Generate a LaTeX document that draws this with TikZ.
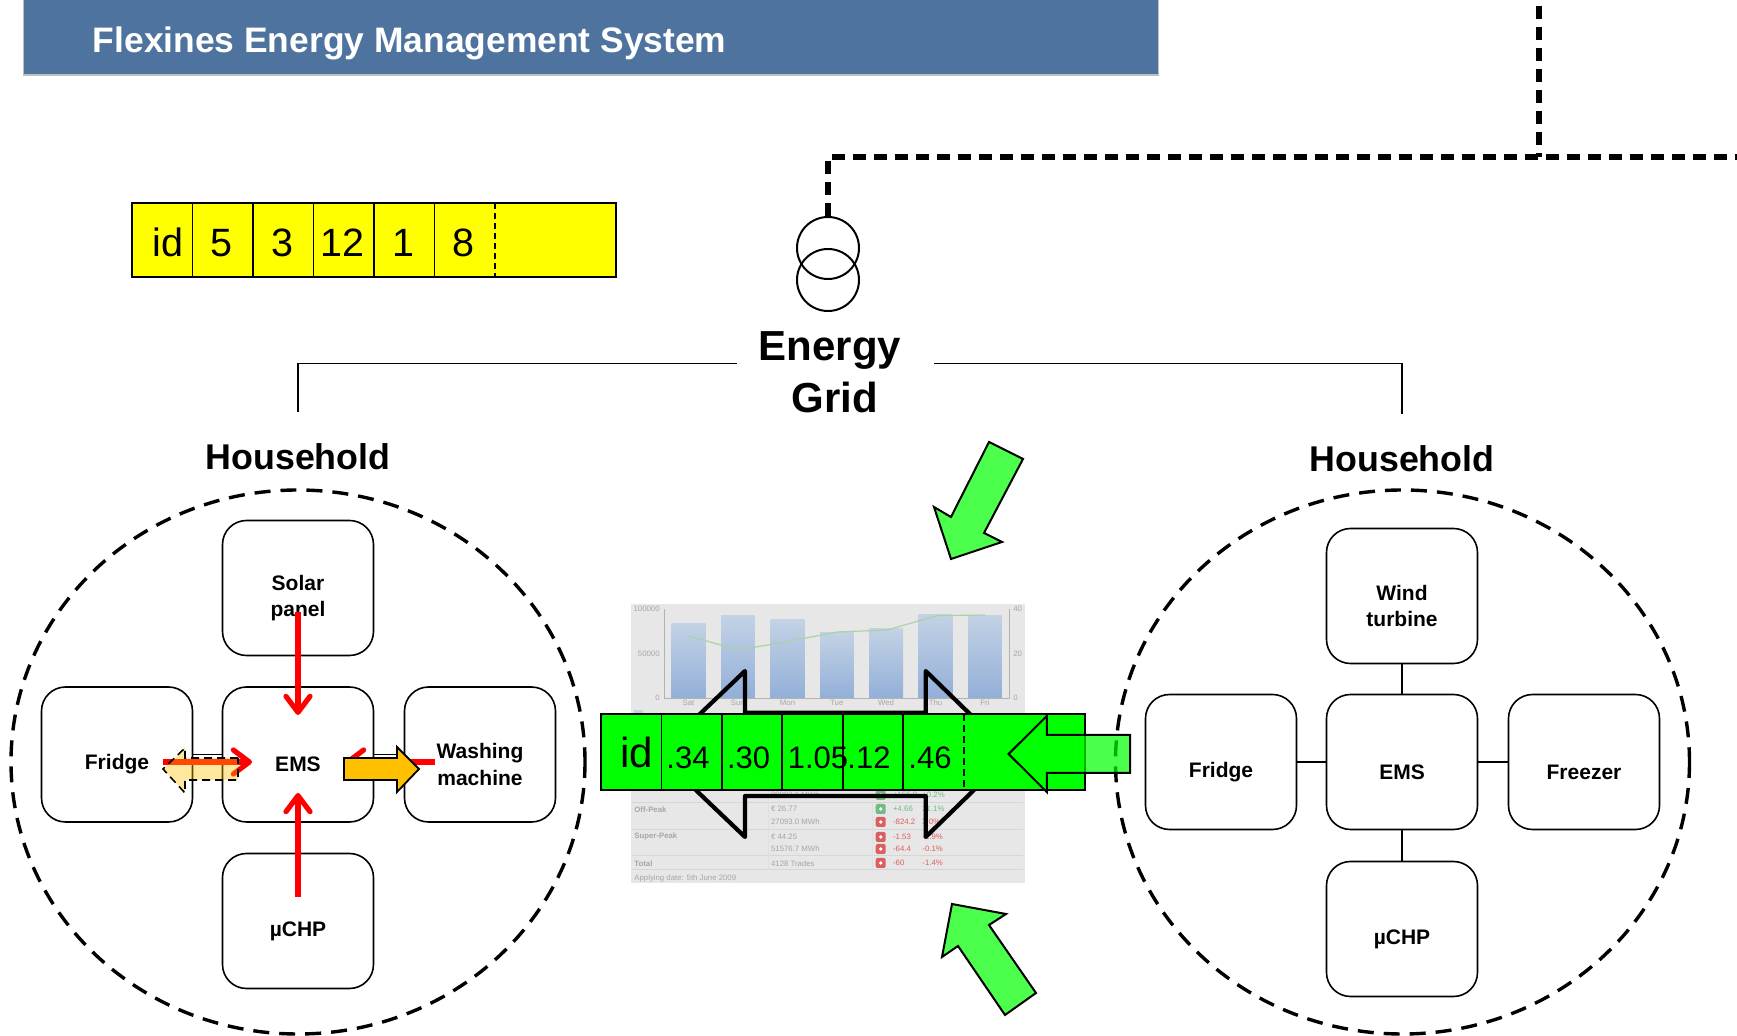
\documentclass[tikz,border=0pt]{standalone}
\usepackage{fontspec}
\setmainfont{Liberation Sans}
\usetikzlibrary{arrows.meta,positioning}
\definecolor{titleblue}{HTML}{4F739F}
\definecolor{chartbg}{HTML}{E7E7E7}
\definecolor{charttxt}{HTML}{A6A6A6}
\definecolor{barlow}{HTML}{92AFD8}
\definecolor{barhigh}{HTML}{C3D2E5}
\definecolor{upgreen}{HTML}{6FBB85}
\definecolor{downred}{HTML}{DC5F5F}
\definecolor{greenline}{HTML}{A9D3A5}
\definecolor{baryellow}{HTML}{FFFF00}
\definecolor{bargreen}{HTML}{00FF00}
\definecolor{washorange}{HTML}{FFC000}
\tikzset{
	devbox/.style={draw=black,line width=0.8pt,rounded corners=12pt,minimum width=75.5pt,minimum height=67.5pt,inner sep=0pt},
	devtext/.style={yshift=-5pt,align=center,inner sep=0pt,font=\fontsize{10.5}{13.3}\selectfont\bfseries},
	housetext/.style={inner sep=0pt,font=\fontsize{17.9}{21}\selectfont\bfseries},
	wirelink/.style={draw=black,line width=0.7pt},
	housering/.style={draw=black,line width=1.7pt,dash pattern=on 8pt off 5pt},
	feeder/.style={draw=black,line width=2.8pt,dash pattern=on 6.5pt off 4pt},
	flowred/.style={draw=red,line width=2.6pt,-{Straight Barb[length=8pt,width=12pt,round]}},
	greenarrow/.style={draw=black,line width=1pt,fill=bargreen,fill opacity=0.7,line join=miter},
	cellyellow/.style={anchor=base,inner sep=0pt,font=\fontsize{19.75}{24}\selectfont},
	cellgreen/.style={anchor=base,inner sep=0pt,font=\fontsize{15.5}{18}\selectfont},
	tiny/.style={inner sep=0pt,text=charttxt,font=\fontsize{3.9}{5}\selectfont},
	iconbox/.style={rounded corners=1pt,minimum size=5pt,inner sep=0pt}
}
\begin{document}
\begin{tikzpicture}[x=0.5pt,y=-0.5pt]
	\useasboundingbox (0,0) rectangle (1737,1036);
	% title
	\fill [black!25] (23,0) rectangle (1159,76);
	\fill [titleblue] (24,0) rectangle (1158,74);
	\node [anchor=base west,inner sep=0pt,text=white,font=\fontsize{17.7}{21}\selectfont\bfseries] (title) at (92.5,53) {Flexines Energy Management System};
	% feeder and transformer
	\node [draw=black,circle,line width=1pt,minimum size=31pt,inner sep=0pt] (trafoA) at (828,248) {};
	\node [draw=black,circle,line width=1pt,minimum size=31pt,inner sep=0pt] (trafoB) at (828,280) {};
	\coordinate (feedA) at (1539,6);
	\coordinate (feedB) at (1539,157);
	\coordinate (feedC) at (828,157);
	\coordinate (feedD) at (1737,157);
	\draw [feeder] (feedA) -- (feedB);
	\draw [feeder] (trafoA.north) -- (feedC) -- (feedD);
	% yellow bar
	\draw [black,fill=baryellow,line width=1pt] (132,203) rectangle (616,277);
	\foreach \x in {192.5,253,313.5,374,434.5}
		\draw [black,line width=0.6pt] (\x,203) to (\x,277);
	\draw [black,line width=0.7pt,dash pattern=on 3pt off 2pt] (495,203) to (495,277);
	\foreach \i/\x/\t in {0/168/id,1/221.5/5,2/282/3,3/342.5/12,4/403/1,5/463/8}
		\node [cellyellow] (yc\i) at (\x,257) {\t};
	% energy grid
	\node [align=center,inner sep=0pt,font=\fontsize{21}{25.8}\selectfont\bfseries] (grid) at (830,372) {Energy\\\hspace{5pt}Grid};
	\node [housetext] (houseL) at (298,456.5) {Household};
	\node [housetext] (houseR) at (1402,459) {Household};
	\coordinate (gridL) at (737,363.5);
	\coordinate (gridR) at (934,363.5);
	\coordinate (cornL) at (298,363.5);
	\coordinate (cornR) at (1402,363.5);
	\coordinate (dropL) at (298,412);
	\coordinate (dropR) at (1402,414);
	\draw [wirelink] (gridL) -- (cornL) -- (dropL);
	\draw [wirelink] (gridR) -- (cornR) -- (dropR);
	% left household
	\draw [housering] (298,762) ellipse (287 and 272);
	\node [devbox] (solarL) at (298,588) {};
	\node [devbox] (emsL) at (298,754.5) {};
	\node [devbox] (fridgeL) at (117,754.5) {};
	\node [devbox] (washL) at (480,754.5) {};
	\node [devbox] (chpL) at (298,921) {};
	\draw [wirelink] (solarL) -- (emsL);
	\draw [wirelink] (fridgeL) -- (emsL);
	\draw [wirelink] (washL) -- (emsL);
	\draw [wirelink] (chpL) -- (emsL);
	\node [devtext] (solarLt) at (solarL) {Solar\\panel};
	\node [devtext] (emsLt) at (emsL) {EMS};
	\node [devtext] (fridgeLt) at (fridgeL) {Fridge};
	\node [devtext] (washLt) at (washL) {Washing\\machine};
	\node [devtext] (chpLt) at (chpL) {µCHP};
	% right household
	\draw [housering] (1402.5,762) ellipse (287 and 272);
	\node [devbox] (windR) at (1402,596) {};
	\node [devbox] (emsR) at (1402,762) {};
	\node [devbox] (fridgeR) at (1221,762) {};
	\node [devbox] (freezeR) at (1584,762) {};
	\node [devbox] (chpR) at (1402,929) {};
	\draw [wirelink] (windR) -- (emsR);
	\draw [wirelink] (fridgeR) -- (emsR);
	\draw [wirelink] (freezeR) -- (emsR);
	\draw [wirelink] (chpR) -- (emsR);
	\node [devtext] (windRt) at (windR) {Wind\\turbine};
	\node [devtext] (emsRt) at (emsR) {EMS};
	\node [devtext] (fridgeRt) at (fridgeR) {Fridge};
	\node [devtext] (freezeRt) at (freezeR) {Freezer};
	\node [devtext] (chpRt) at (chpR) {µCHP};
	% flows in the left household
	\coordinate (solarOut) at (298,612);
	\coordinate (solarIn) at (298,715);
	\coordinate (chpOut) at (298,897);
	\coordinate (chpIn) at (298,793);
	\coordinate (fridgeOut) at (163,762);
	\coordinate (fridgeIn) at (252,762);
	\coordinate (washOut) at (435,762);
	\coordinate (washIn) at (345,762);
	\draw [flowred] (solarOut) -- (solarIn);
	\draw [flowred] (chpOut) -- (chpIn);
	\draw [flowred] (fridgeOut) -- (fridgeIn);
	\draw [flowred] (washOut) -- (washIn);
	\filldraw [black,fill=washorange,fill opacity=0.38,line width=0.8pt,dash pattern=on 4pt off 2.5pt] (238,758) -- (185,758) -- (185,748) -- (163,769) -- (185,793) -- (185,780) -- (238,780) -- cycle;
	\filldraw [black,fill=washorange,line width=0.9pt] (344,758) -- (397,758) -- (397,747) -- (419,769) -- (397,792) -- (397,780) -- (344,780) -- cycle;
	% price screenshot
	\fill [chartbg] (631,604) rectangle (1025,883);
	\foreach \i/\x/\t/\d in {0/671.7/624/Sat,1/721/615.7/Sun,2/770.7/620/Mon,3/820/632.3/Tue,4/869.3/628.3/Wed,5/918.7/614.7/Thu,6/968/615.3/Fri} {
		\shade [top color=barhigh,bottom color=barlow] (\x,\t) rectangle ++(33.7,698.7-\t);
		\node [tiny] (day\i) at (\x+16.8,703) {\d};
	}
	\draw [black!30,line width=0.4pt] (664.3,609.3) -- (664.3,698.7) -- (1009,698.7) -- (1009,609.3);
	\draw [greenline,line width=0.6pt] (689,636) -- (738.3,650) -- (787,641.7) -- (837,632) -- (887,630) -- (937,615.7) -- (985,615);
	\foreach \i/\y/\a/\b in {0/609/100000/40,1/654/50000/20,2/698/0/0} {
		\node [tiny,anchor=east] (axL\i) at (660,\y) {\a};
		\node [tiny,anchor=west] (axR\i) at (1013,\y) {\b};
	}
	\fill [barhigh] (633.6,710) rectangle (642.5,714);
	\foreach \y in {802.3,829.3,855.7,869.3}
		\draw [black!16,line width=0.5pt] (632,\y) to (1023,\y);
	\foreach \x in {768,872}
		\draw [black!12,line width=0.4pt] (\x,791) to (\x,869);
	\foreach \i/\y/\t in {0/809.3/Off-Peak,1/836.7/Super-Peak,2/863.3/Total}
		\node [tiny,anchor=west,font=\fontsize{3.9}{5}\selectfont\bfseries] (rowA\i) at (634,\y) {\t};
	\foreach \i/\y/\t in {0/795/99993.1 MWh,1/809.3/€ 26.77,2/822/27093.0 MWh,3/836.7/€ 44.25,4/848.3/51576.7 MWh,5/863.3/4128 Trades}
		\node [tiny,anchor=west] (rowB\i) at (770.7,\y) {\t};
	\node [tiny,anchor=west] (applied) at (634,878.3) {Applying date: 5th June 2009};
	\foreach \i/\y/\c/\a/\b in {0/795/upgreen/+155.9/+0.2\%,1/809/upgreen/+4.66/21.1\%,2/822/downred/-824.2/3.0\%,3/837/downred/-1.53/-1.9\%,4/849/downred/-64.4/-0.1\%,5/863/downred/-60/-1.4\%} {
		\node [iconbox,fill=\c] (icon\i) at (880.7,\y) {};
		\fill [white] (icon\i) circle (1.8);
		\node [tiny,anchor=west,text=\c] (valA\i) at (892.7,\y) {\a};
		\node [tiny,anchor=west,text=\c] (valB\i) at (922,\y) {\b};
	}
	% double arrow behind the green bar
	\draw [black,line width=2.1pt,line join=round] (658,754) -- (745,671) -- (745,712.7) -- (925.7,712.7) -- (925.7,671) -- (1011,754) -- (925.7,837) -- (925.7,796) -- (745,796) -- (745,837) -- cycle;
	% green bar
	\draw [black,fill=bargreen,line width=1pt] (600.7,714) rectangle (1084.6,790);
	\foreach \x in {661.4,721.8,782,843,903}
		\draw [black,line width=0.8pt] (\x,714) to (\x,790);
	\draw [black,line width=0.8pt,dash pattern=on 3.5pt off 2pt] (964,714) to (964,790);
	\node [anchor=base,inner sep=0pt,font=\fontsize{21}{24}\selectfont] (gid) at (636.4,768) {id};
	\foreach \i/\x/\t in {0/688/.34,1/748.6/.30,2/818/1.05,3/869/.12,4/930/.46}
		\node [cellgreen] (gc\i) at (\x,769) {\t};
	% green arrows
	\draw [greenarrow] (1008.6,754) -- (1046.8,716) -- (1046.8,735) -- (1130,735) -- (1130,773) -- (1046.8,773) -- (1046.8,792) -- cycle;
	\draw [greenarrow] (989,442) -- (1023,459) -- (984,533) -- (1002,542) -- (951,559) -- (934,507) -- (951,517) -- cycle;
	\draw [greenarrow] (952,904) -- (1006,914) -- (989,925) -- (1036,993) -- (1005,1015) -- (958,946) -- (942,957) -- cycle;
\end{tikzpicture}
\end{document}
